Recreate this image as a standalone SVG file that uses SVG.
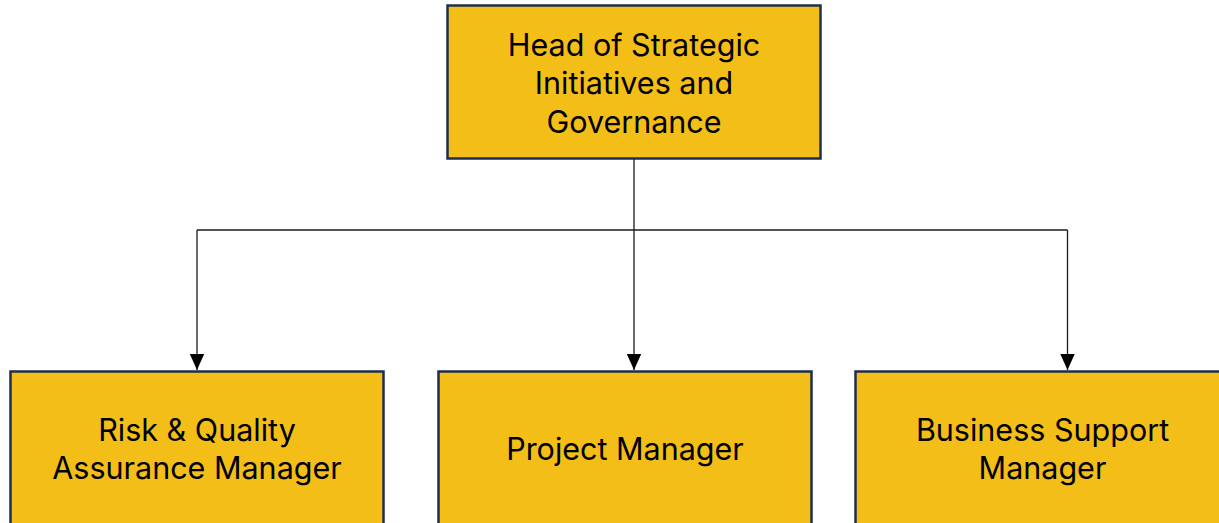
<svg xmlns="http://www.w3.org/2000/svg" width="1219" height="523" viewBox="0 0 1219 523">
<style>
.box{fill:#F4BE19;stroke:#1E2E50;stroke-width:2.5}
.lbl{font-family:Inter,"Liberation Sans",sans-serif;font-size:30.5px;fill:#000;text-anchor:middle}
.conn{fill:none;stroke:#1a1a1a;stroke-width:1.3}
</style>
<defs>
<marker id="arr" viewBox="0 0 10 10" refX="10" refY="5" markerWidth="16" markerHeight="16" markerUnits="userSpaceOnUse" orient="auto">
<path d="M0,0.5 L10,5 L0,9.5 z" fill="#000"/>
</marker>
</defs>
<rect width="1219" height="523" fill="#fff"/>
<g id="connectors">
<path class="conn" d="M634,159 V230"/>
<path class="conn" d="M197,230 H1067.5"/>
<path class="conn" d="M197,230 V370" marker-end="url(#arr)"/>
<path class="conn" d="M634,230 V370" marker-end="url(#arr)"/>
<path class="conn" d="M1067.5,230 V370" marker-end="url(#arr)"/>
</g>
<g id="head">
<rect class="box" x="447.5" y="5.5" width="373" height="153"/>
<text class="lbl" x="634" y="56">Head of Strategic</text>
<text class="lbl" x="634" y="94">Initiatives and</text>
<text class="lbl" x="634" y="132.5">Governance</text>
</g>
<g id="risk">
<rect class="box" x="10.5" y="371.5" width="373" height="170"/>
<text class="lbl" x="197" y="441">Risk &amp; Quality</text>
<text class="lbl" x="197" y="479">Assurance Manager</text>
</g>
<g id="project">
<rect class="box" x="438.5" y="371.5" width="373" height="170"/>
<text class="lbl" x="625" y="460">Project Manager</text>
</g>
<g id="business">
<rect class="box" x="855.5" y="371.5" width="374" height="170"/>
<text class="lbl" x="1042.5" y="441">Business Support</text>
<text class="lbl" x="1042.5" y="479">Manager</text>
</g>
</svg>
